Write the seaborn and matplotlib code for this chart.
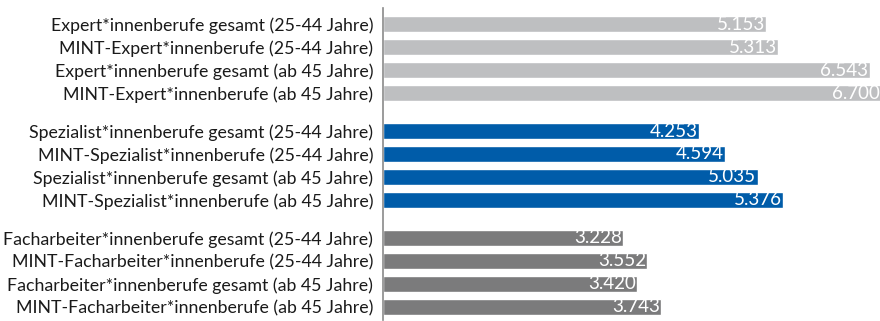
import matplotlib
matplotlib.use("Agg")
import matplotlib.pyplot as plt
import seaborn as sns
import pandas as pd
import numpy as np

labels = [
    "Expert*innenberufe gesamt (25-44 Jahre)",
    "MINT-Expert*innenberufe (25-44 Jahre)",
    "Expert*innenberufe gesamt (ab 45 Jahre)",
    "MINT-Expert*innenberufe (ab 45 Jahre)",
    "Spezialist*innenberufe gesamt (25-44 Jahre)",
    "MINT-Spezialist*innenberufe (25-44 Jahre)",
    "Spezialist*innenberufe gesamt (ab 45 Jahre)",
    "MINT-Spezialist*innenberufe (ab 45 Jahre)",
    "Facharbeiter*innenberufe gesamt (25-44 Jahre)",
    "MINT-Facharbeiter*innenberufe (25-44 Jahre)",
    "Facharbeiter*innenberufe gesamt (ab 45 Jahre)",
    "MINT-Facharbeiter*innenberufe (ab 45 Jahre)",
]
values = [5.153, 5.313, 6.543, 6.700,
          4.253, 4.594, 5.035, 5.376,
          3.228, 3.552, 3.420, 3.743]
groups = ["Expert"] * 4 + ["Spezialist"] * 4 + ["Facharbeiter"] * 4
palette = {"Expert": "#bebfc1", "Spezialist": "#005ca9", "Facharbeiter": "#7b7b7c"}

gap = 1.65
pos = [g * (3 + gap) + i for g in range(3) for i in range(4)]

df = pd.DataFrame({"label": labels, "value": values, "group": groups, "pos": pos})

sns.set_style("white")
plt.rcParams["font.family"] = ["Lato", "DejaVu Sans"]

fig = plt.figure(figsize=(8.8, 3.21), dpi=100)
ax = fig.add_axes([383 / 880, 1 - 320 / 321, 1 - 383 / 880, (320 - 8) / 321])

sns.barplot(data=df, x="value", y="pos", hue="group", palette=palette,
            orient="h", native_scale=True, dodge=False, width=0.72,
            legend=False, ax=ax, saturation=1)

for p, v in zip(pos, values):
    ax.annotate(f"{v:.3f}", xy=(v, p), xytext=(-1, 0), textcoords="offset points",
                ha="right", va="center", color="white", fontsize=13.5,
                annotation_clip=False)

ax.set_xlim(0, (880 - 383) / 74.4)
ax.set_ylim(12.87, -0.70)
ax.set_yticks(pos)
ax.set_yticklabels(labels, fontsize=12.75, color="#1a1a1a")
ax.tick_params(axis="y", length=0, pad=7)
ax.set_xticks([])
ax.set_xlabel("")
ax.set_ylabel("")
for s in ["top", "right", "bottom"]:
    ax.spines[s].set_visible(False)
ax.spines["left"].set_color("#8a8a8a")
ax.spines["left"].set_linewidth(1.2)

fig.savefig("out.png", dpi=100)
